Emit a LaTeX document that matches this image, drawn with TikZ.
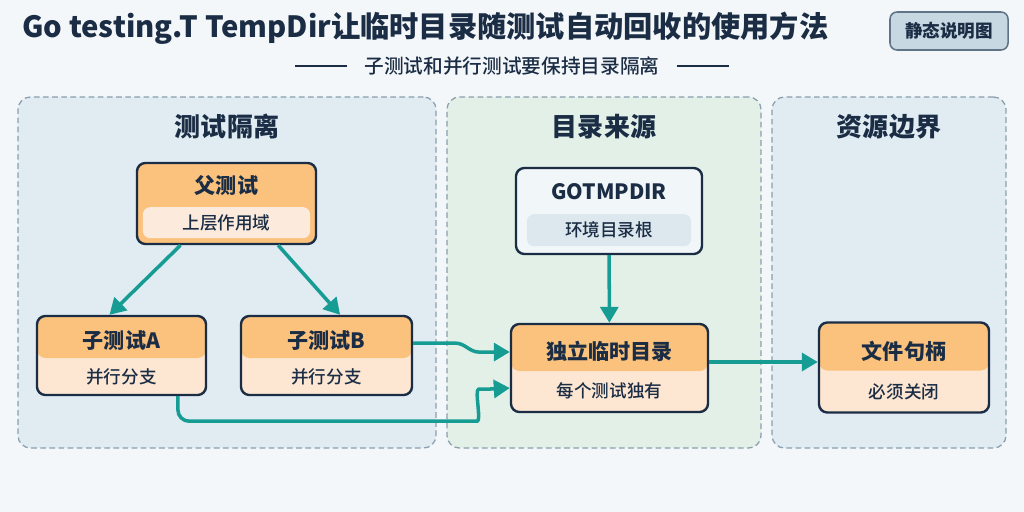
\documentclass[tikz,border=0pt]{standalone}
\usepackage{fontspec}
\setmainfont{Noto Sans CJK SC}
\setsansfont{Noto Sans CJK SC}
\newfontfamily\mediumfont{Noto Sans CJK SC Medium}
\usepackage{xcolor}
\usetikzlibrary{arrows.meta}
\definecolor{bgcolor}{HTML}{F4F7F9}
\definecolor{navycolor}{HTML}{1B2D45}
\definecolor{panelline}{HTML}{8A9FAF}
\definecolor{panelblue}{HTML}{E0EBF2}
\definecolor{panelgreen}{HTML}{E3F0E7}
\definecolor{headcolor}{HTML}{FBC27E}
\definecolor{peachcolor}{HTML}{FDE7D3}
\definecolor{lightpeach}{HTML}{FCEBDC}
\definecolor{envcolor}{HTML}{F1F6F9}
\definecolor{envinner}{HTML}{DCE7EE}
\definecolor{badgecolor}{HTML}{C8D8E3}
\definecolor{badgeline}{HTML}{5F7587}
\definecolor{flowcolor}{HTML}{179C94}

\begin{document}
\begin{tikzpicture}[x=0.025cm, y=-0.025cm,
    panel/.style={draw=panelline, line width=0.9pt, dash pattern=on 4pt off 2.5pt,
                  rounded corners=9pt, minimum height=8.775cm},
    card/.style={draw=navycolor, line width=1.7pt, rounded corners=6pt, fill=peachcolor,
                 path picture={\fill[headcolor] (path picture bounding box.north west)
                   rectangle ([yshift=-#1]path picture bounding box.north east);}},
    innerbox/.style={rounded corners=5pt, inner sep=0pt},
    paneltitle/.style={font=\fontsize{18.5}{22}\selectfont\bfseries, text=navycolor},
    headtext/.style={font=\fontsize{15}{18}\selectfont\bfseries, text=navycolor},
    bodytext/.style={font=\fontsize{12.5}{15}\selectfont\mediumfont, text=navycolor},
    flow/.style={draw=flowcolor, line width=2.5pt, -{Triangle[length=0.4cm, width=0.45cm]}}
]
\fill[bgcolor] (0,0) rectangle (1024,512);
\useasboundingbox (0,0) rectangle (1024,512);

\node[anchor=base west, font=\fontsize{20.8}{24}\selectfont\bfseries, text=navycolor, inner sep=0pt] (title) at (22,38) {Go testing.T TempDir让临时目录随测试自动回收的使用方法};
\node[draw=badgeline, fill=badgecolor, line width=1.1pt, rounded corners=5pt, minimum width=2.95cm, minimum height=0.95cm,
      font=\fontsize{12.5}{15}\selectfont\bfseries, text=navycolor] (badge) at (949,31) {静态说明图};
\node[font=\fontsize{14}{17}\selectfont\mediumfont, text=navycolor] (subtitle) at (512,66) {子测试和并行测试要保持目录隔离};
\draw[navycolor, line width=0.8pt] ([xshift=-0.3cm]subtitle.west) -- ++(-52,0);
\draw[navycolor, line width=0.8pt] ([xshift=0.3cm]subtitle.east) -- ++(52,0);

\node[panel, fill=panelblue, minimum width=10.45cm] (p1) at (227,272.5) {};
\node[panel, fill=panelgreen, minimum width=7.85cm] (p2) at (604,272.5) {};
\node[panel, fill=panelblue, minimum width=5.85cm] (p3) at (889,272.5) {};
\node[paneltitle] at ([yshift=-0.75cm]p1.north) {测试隔离};
\node[paneltitle] at ([yshift=-0.75cm]p2.north) {目录来源};
\node[paneltitle] at ([yshift=-0.75cm]p3.north) {资源边界};

\node[card=3cm, minimum width=4.475cm, minimum height=2.025cm] (parent) at (226.5,203.5) {};
\node[headtext] at ([yshift=-0.6cm]parent.north) {父测试};
\node[innerbox, fill=lightpeach, minimum width=4.175cm, minimum height=0.775cm, bodytext] at ([yshift=0.5625cm]parent.south) {上层作用域};

\node[card=1.05cm, minimum width=4.225cm, minimum height=1.975cm] (subA) at (121.5,355.5) {};
\node[headtext] at ([yshift=-0.65cm]subA.north) {子测试A};
\node[bodytext] at ([yshift=0.475cm]subA.south) {并行分支};

\node[card=1.05cm, minimum width=4.275cm, minimum height=1.975cm] (subB) at (326.5,355.5) {};
\node[headtext] at ([yshift=-0.65cm]subB.north) {子测试B};
\node[bodytext] at ([yshift=0.475cm]subB.south) {并行分支};

\node[draw=navycolor, line width=1.7pt, rounded corners=6pt, fill=envcolor, minimum width=4.65cm, minimum height=2.15cm] (env) at (609,211) {};
\node[headtext] at ([yshift=-0.625cm]env.north) {GOTMPDIR};
\node[innerbox, fill=envinner, minimum width=4.1cm, minimum height=0.8cm, bodytext] at ([yshift=0.625cm]env.south) {环境目录根};

\node[card=1.175cm, minimum width=4.925cm, minimum height=2.2cm] (tmpdir) at (609.5,368) {};
\node[headtext] at ([yshift=-0.725cm]tmpdir.north) {独立临时目录};
\node[bodytext] at ([yshift=0.55cm]tmpdir.south) {每个测试独有};

\node[card=1.2cm, minimum width=4.25cm, minimum height=2.25cm] (handle) at (904,367.5) {};
\node[headtext] at ([yshift=-0.75cm]handle.north) {文件句柄};
\node[bodytext] at ([yshift=0.55cm]handle.south) {必须关闭};

\draw[flow] ([xshift=-1.15cm]parent.south) -- ([xshift=-0.3cm]subA.north);
\draw[flow] ([xshift=1.29cm]parent.south) -- ([xshift=0.34cm]subB.north);
\draw[flow] ([yshift=0.31cm]subB.east) -- ++(42,0) to[out=0, in=180] ++(24,9) -- ([yshift=0.4cm]tmpdir.west);
\draw[flow, rounded corners=8pt] ([xshift=1.41cm]subA.south) -- ++(0,25) -- ++(288,0) to[out=0, in=180] ++(24,-32) -- ([yshift=-0.5cm]tmpdir.west);
\draw[flow] (env) -- (tmpdir);
\draw[flow] ([yshift=0.15cm]tmpdir.east) -- ([yshift=0.15cm]tmpdir.east -| handle.west);
\end{tikzpicture}
\end{document}
